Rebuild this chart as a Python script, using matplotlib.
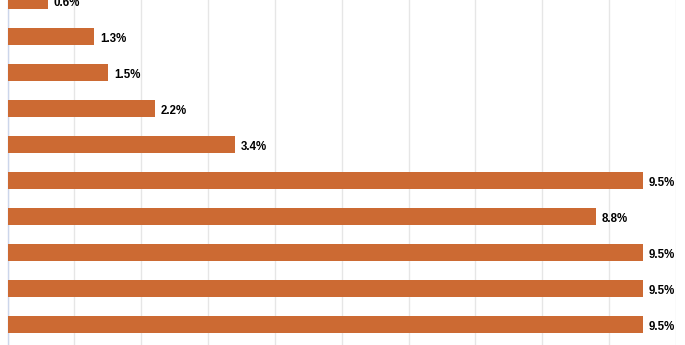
import matplotlib.pyplot as plt
from matplotlib.ticker import MultipleLocator

# values of the bars, top to bottom (percent)
values = [0.6, 1.3, 1.5, 2.2, 3.4, 9.5, 8.8, 9.5, 9.5, 9.5]
labels = ["0.6%", "1.3%", "1.5%", "2.2%", "3.4%", "9.5%", "8.8%", "9.5%", "9.5%", "9.5%"]

bar_color = "#cc6a33"

fig = plt.figure(figsize=(6.85, 3.45), dpi=100)
ax = fig.add_axes([7.5 / 685, 0, (676 - 7.5) / 685, 1])

ypos = list(range(len(values)))
ax.barh(ypos, values, height=0.47, color=bar_color, zorder=3)

# data labels, 6 px right of each bar, baseline a bit below bar centre
for y, v, txt in zip(ypos, values, labels):
    ax.annotate(txt, (v, y), xytext=(6, -5.8), textcoords="offset pixels",
                va="baseline", ha="left", fontsize=8.3, fontweight="bold",
                family=["Liberation Sans", "DejaVu Sans"], color="black",
                zorder=4)

ax.set_xlim(0, 10)
ax.set_ylim(9.565, -0.018)
ax.xaxis.set_major_locator(MultipleLocator(1))
ax.grid(axis="x", color="#e6e6e6", linewidth=1, zorder=0)
ax.tick_params(left=False, bottom=False, labelleft=False, labelbottom=False)
for s in ["top", "right", "bottom"]:
    ax.spines[s].set_visible(False)
ax.spines["left"].set_color("#ccd6eb")
ax.spines["left"].set_linewidth(1)

fig.savefig("out.png", dpi=100)
plt.close(fig)
